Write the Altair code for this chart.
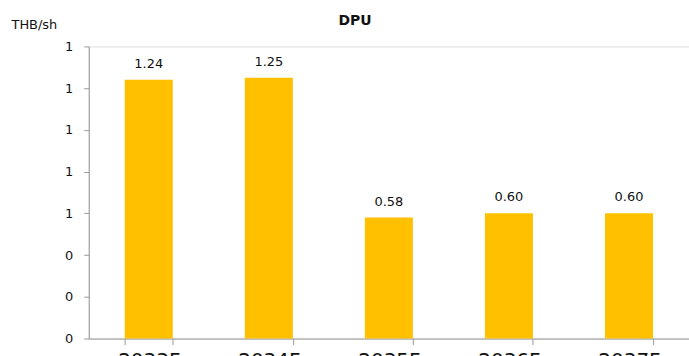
import altair as alt
import pandas as pd

years = ["2033F", "2034F", "2035F", "2036F", "2037F"]
dpu = [1.24, 1.25, 0.58, 0.60, 0.60]

df = pd.DataFrame({"year": years, "dpu": dpu})

FONT = "DejaVu Sans"

base = alt.Chart(df).encode(
    x=alt.X("year:N", sort=years, title=None,
            scale=alt.Scale(paddingInner=0.6, paddingOuter=0.3),
            axis=alt.Axis(labelAngle=0, labelFont=FONT, labelFontSize=20, labelColor="#111",
                          tickBand="extent", domainColor="#999", tickColor="#999",
                          tickSize=6, labelPadding=6, grid=False)),
    y=alt.Y("dpu:Q", title="THB/sh",
            scale=alt.Scale(domain=[0, 1.4], nice=False),
            axis=alt.Axis(values=[0, 0.2, 0.4, 0.6, 0.8, 1.0, 1.2, 1.4], format=".0f",
                          labelFont=FONT, labelFontSize=13, labelColor="#111",
                          domainColor="#999", tickColor="#999", tickSize=5,
                          labelPadding=11, grid=False,
                          titleAngle=0, titleX=-78, titleY=-18, titleAlign="left",
                          titleBaseline="alphabetic", titleFont=FONT, titleFontSize=13,
                          titleFontWeight="normal", titleColor="#111")),
)

bars = base.mark_bar(color="#FFC000")
labels = base.mark_text(baseline="bottom", dy=-9, font=FONT, fontSize=13, color="#111").encode(
    text=alt.Text("dpu:Q", format=".2f"))

chart = (bars + labels).properties(
    width=602, height=293,
    title=alt.TitleParams("DPU", font=FONT, fontSize=14, fontWeight="bold", color="#111",
                          anchor="middle", frame="group", dx=-34, offset=-10),
    padding={"left": 11, "top": 14, "right": 0, "bottom": 0},
).configure_view(stroke=None).configure(background="white")

chart.save("out.html", embed_options={"renderer": "svg", "actions": False})
